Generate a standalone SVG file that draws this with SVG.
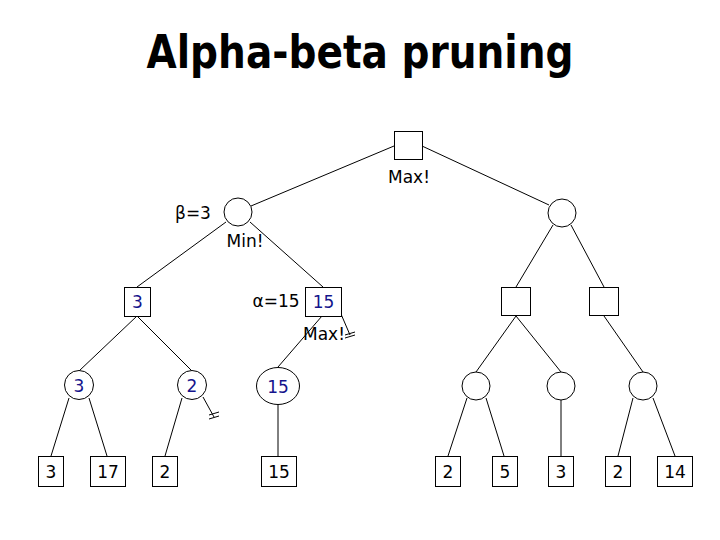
<svg xmlns="http://www.w3.org/2000/svg" width="720" height="540" viewBox="0 0 720 540">
<style>
.nd{fill:#fff;stroke:#000;stroke-width:1}
.e{stroke:#000;stroke-width:1;fill:none}
.t{font-family:"DejaVu Sans",Verdana,sans-serif;font-size:17px;text-anchor:middle;dominant-baseline:central}
.v{fill:#14148c}
.k{fill:#000}
.title{font-family:"DejaVu Sans",Verdana,sans-serif;font-weight:bold;font-size:47px;text-anchor:middle}
</style>
<rect width="720" height="540" fill="#fff"/>
<text class="title" x="360" y="68" textLength="427" lengthAdjust="spacingAndGlyphs">Alpha-beta pruning</text>
<g id="connectors">
<line class="e" x1="394" y1="146" x2="251" y2="206"/>
<line class="e" x1="422" y1="146" x2="549" y2="205"/>
<line class="e" x1="226" y1="222" x2="137" y2="287"/>
<line class="e" x1="250" y1="222" x2="323" y2="287"/>
<line class="e" x1="553" y1="225" x2="516" y2="287"/>
<line class="e" x1="571" y1="225" x2="604" y2="287"/>
<line class="e" x1="137" y1="316" x2="79" y2="371"/>
<line class="e" x1="137" y1="316" x2="192" y2="371"/>
<line class="e" x1="322" y1="316" x2="278" y2="367"/>
<line class="e" x1="341" y1="314" x2="350" y2="335"/>
<line class="e" x1="345" y1="335" x2="355" y2="332"/>
<line class="e" x1="345" y1="338" x2="355" y2="335"/>
<line class="e" x1="516" y1="316" x2="476" y2="372"/>
<line class="e" x1="516" y1="316" x2="561" y2="372"/>
<line class="e" x1="604" y1="316" x2="643" y2="372"/>
<line class="e" x1="69" y1="398" x2="51" y2="456"/>
<line class="e" x1="89" y1="398" x2="107" y2="456"/>
<line class="e" x1="182" y1="398" x2="165" y2="456"/>
<line class="e" x1="203" y1="397" x2="214" y2="417"/>
<line class="e" x1="209" y1="415" x2="219" y2="412"/>
<line class="e" x1="209" y1="419" x2="219" y2="416"/>
<line class="e" x1="278" y1="404" x2="278" y2="456"/>
<line class="e" x1="467" y1="398" x2="448" y2="456"/>
<line class="e" x1="486" y1="398" x2="504" y2="456"/>
<line class="e" x1="561" y1="400" x2="561" y2="456"/>
<line class="e" x1="633" y1="398" x2="618" y2="456"/>
<line class="e" x1="653" y1="398" x2="675" y2="456"/>
</g>
<g id="root"><rect class="nd" x="394.5" y="131.5" width="28" height="28"/><text class="t k" x="409" y="177">Max!</text></g>
<g id="min-left"><circle class="nd" cx="238" cy="212" r="14"/><text class="t k" x="193" y="213">β=3</text><text class="t k" x="245" y="241">Min!</text></g>
<g id="min-right"><circle class="nd" cx="562" cy="213" r="14"/></g>
<g id="max-3"><rect class="nd" x="124.5" y="287.5" width="26" height="29"/><text class="t v" x="137.5" y="302">3</text></g>
<g id="max-15"><rect class="nd" x="305.5" y="287.5" width="36" height="29"/><text class="t v" x="323.5" y="302">15</text><text class="t k" x="276" y="301">α=15</text><text class="t k" x="324" y="334">Max!</text></g>
<g id="max-r1"><rect class="nd" x="501.5" y="287.5" width="29" height="28"/></g>
<g id="max-r2"><rect class="nd" x="589.5" y="287.5" width="29" height="28"/></g>
<g id="min-3"><circle class="nd" cx="79" cy="385" r="14.5"/><text class="t v" x="79" y="386">3</text></g>
<g id="min-2"><circle class="nd" cx="192" cy="385" r="14.5"/><text class="t v" x="192" y="386">2</text></g>
<g id="min-15"><ellipse class="nd" cx="278" cy="386" rx="21.5" ry="18.5"/><text class="t v" x="278" y="387">15</text></g>
<g id="min-r1"><circle class="nd" cx="476" cy="386" r="14"/></g>
<g id="min-r2"><circle class="nd" cx="561" cy="386" r="14"/></g>
<g id="min-r3"><circle class="nd" cx="643" cy="386" r="14"/></g>
<g id="leaf-3"><rect class="nd" x="38.5" y="456.5" width="25" height="30"/><text class="t k" x="51" y="472">3</text></g>
<g id="leaf-17"><rect class="nd" x="90.5" y="456.5" width="35" height="30"/><text class="t k" x="108" y="472">17</text></g>
<g id="leaf-2a"><rect class="nd" x="152.5" y="456.5" width="25" height="30"/><text class="t k" x="165" y="472">2</text></g>
<g id="leaf-15"><rect class="nd" x="261.5" y="456.5" width="35" height="30"/><text class="t k" x="279" y="472">15</text></g>
<g id="leaf-2b"><rect class="nd" x="435.5" y="456.5" width="25" height="30"/><text class="t k" x="448" y="472">2</text></g>
<g id="leaf-5"><rect class="nd" x="492.5" y="456.5" width="25" height="30"/><text class="t k" x="505" y="472">5</text></g>
<g id="leaf-3b"><rect class="nd" x="548.5" y="456.5" width="25" height="30"/><text class="t k" x="561" y="472">3</text></g>
<g id="leaf-2c"><rect class="nd" x="605.5" y="456.5" width="25" height="30"/><text class="t k" x="618" y="472">2</text></g>
<g id="leaf-14"><rect class="nd" x="657.5" y="456.5" width="35" height="30"/><text class="t k" x="675" y="472">14</text></g>
</svg>
